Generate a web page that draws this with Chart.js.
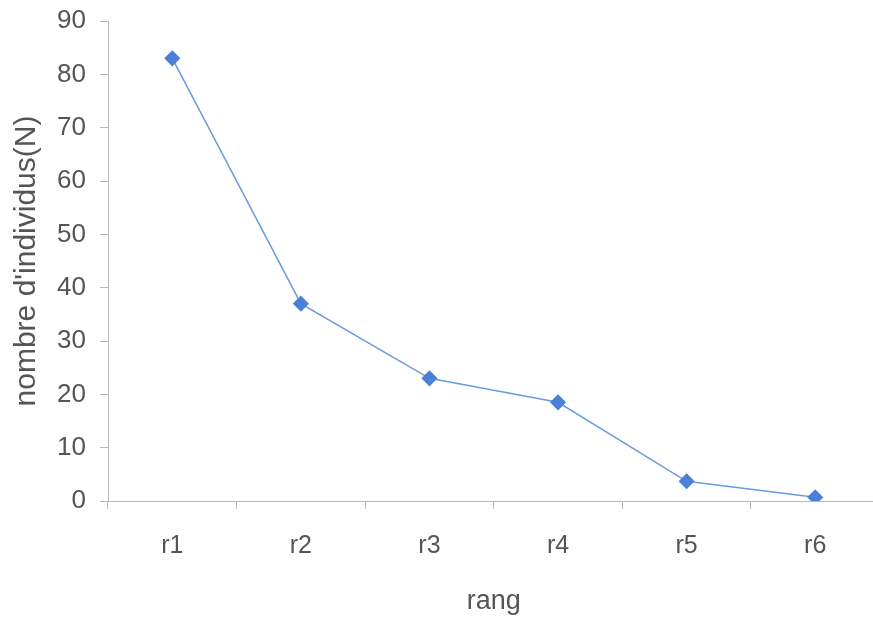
<!DOCTYPE html>
<html>
<head>
<meta charset="utf-8">
<script src="https://cdn.jsdelivr.net/npm/chart.js@4/dist/chart.umd.min.js"></script>
<style>
  html, body { margin: 0; padding: 0; background: #fff; overflow: hidden; }
  #wrap { width: 888px; height: 618px; }
</style>
</head>
<body>
<div id="wrap"><canvas id="myChart" width="888" height="618"></canvas></div>
<script>
const rangs = ["r1", "r2", "r3", "r4", "r5", "r6"];
const individus = [83, 37, 23, 18.5, 3.7, 0.7];
const yTicks = [0, 10, 20, 30, 40, 50, 60, 70, 80, 90];

const ctx = document.getElementById("myChart").getContext("2d");
const axisGray = "#b8b8b8";
const textGray = "#555555";
const fontFam = "Liberation Sans, Arial";

new Chart(ctx, {
  type: "line",
  data: {
    labels: rangs,
    datasets: [
      {
        label: "nombre d'individus",
        data: individus,
        fill: false,
        borderColor: "#6a9be0",
        borderWidth: 1.5,
        backgroundColor: "#4a80d8",
        pointBackgroundColor: "#4a80d8",
        pointBorderColor: "#4a80d8",
        pointStyle: "rectRot",
        pointRadius: 7,
        tension: 0,
      },
    ],
  },
  options: {
    responsive: false,
    animation: false,
    layout: { padding: { top: 21, right: 0, left: 0, bottom: 0 } },
    plugins: {
      legend: { display: false },
      tooltip: { enabled: false },
    },
    scales: {
      x: {
        offset: true,
        grid: {
          display: true,
          drawOnChartArea: false,
          offset: true,
          tickLength: 8,
          tickColor: axisGray,
        },
        border: { color: axisGray, width: 1 },
        ticks: {
          color: textGray,
          font: { family: fontFam, size: 25 },
          padding: 22,
          maxRotation: 0,
        },
        title: {
          display: true,
          text: "rang",
          color: textGray,
          font: { family: fontFam, size: 27 },
          padding: { top: 18, bottom: 0 },
        },
        afterFit: (scale) => {
          scale.height = 117;
          scale.paddingLeft = 0;
          scale.paddingRight = 0;
        },
      },
      y: {
        min: 0,
        max: 90,
        afterBuildTicks: (scale) => {
          scale.ticks = yTicks.map((v) => ({ value: v }));
        },
        grid: {
          display: true,
          drawOnChartArea: false,
          tickLength: 8,
          tickColor: axisGray,
        },
        border: { color: axisGray, width: 1 },
        ticks: {
          color: textGray,
          font: { family: fontFam, size: 26 },
          padding: 14,
        },
        title: {
          display: true,
          text: "nombre d'individus(N)",
          color: textGray,
          font: { family: fontFam, size: 30 },
          padding: { top: 9, bottom: 0 },
        },
        afterFit: (scale) => {
          scale.width = 108;
          scale.paddingTop = 0;
          scale.paddingBottom = 0;
        },
      },
    },
  },
});
</script>
</body>
</html>
